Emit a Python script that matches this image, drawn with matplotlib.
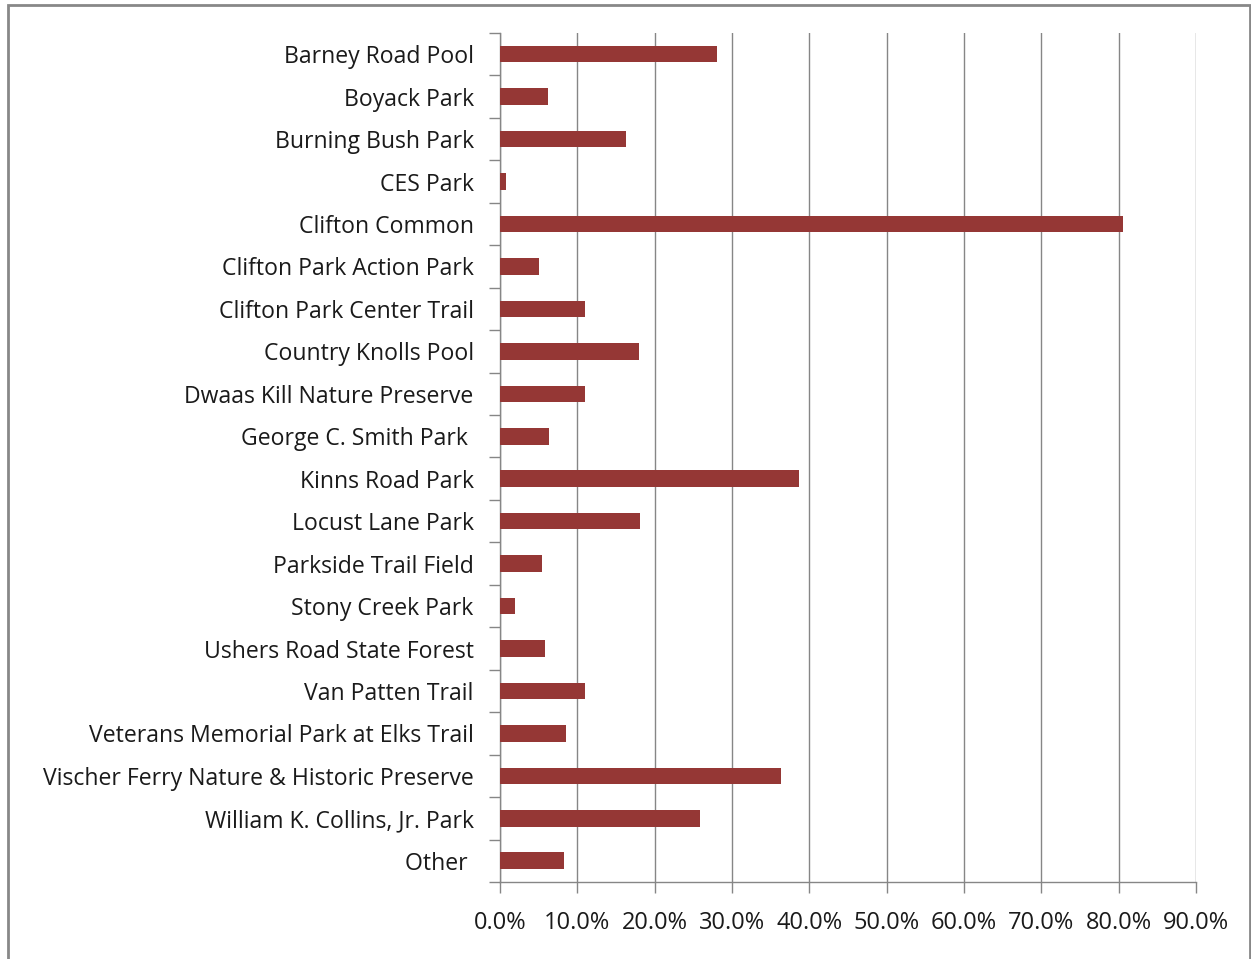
import matplotlib.pyplot as plt
from matplotlib.patches import Rectangle
from matplotlib.ticker import FixedLocator, FuncFormatter

parks = ['Barney Road Pool', 'Boyack Park', 'Burning Bush Park', 'CES Park',
         'Clifton Common', 'Clifton Park Action Park', 'Clifton Park Center Trail',
         'Country Knolls Pool', 'Dwaas Kill Nature Preserve', 'George C. Smith Park ',
         'Kinns Road Park', 'Locust Lane Park', 'Parkside Trail Field',
         'Stony Creek Park', 'Ushers Road State Forest', 'Van Patten Trail',
         'Veterans Memorial Park at Elks Trail', 'Vischer Ferry Nature & Historic Preserve',
         'William K. Collins, Jr. Park', 'Other ']
pct = [28.0, 6.2, 16.3, 0.8, 80.6, 5.1, 11.0, 18.0, 11.0, 6.3,
       38.6, 18.1, 5.4, 1.9, 5.8, 11.0, 8.5, 36.3, 25.8, 8.3]
xticks = [0, 10, 20, 30, 40, 50, 60, 70, 80, 90]

plt.rcParams['font.family'] = ['Open Sans', 'DejaVu Sans']

fig = plt.figure(figsize=(12.51, 9.59), dpi=100)
ax = fig.add_axes([0.3997, 0.0803, 0.5563, 0.8853])

ypos = list(range(len(parks)))
ax.barh(ypos, pct, height=0.39, color='#953735', zorder=3)

ax.set_xlim(0, 90)
ax.set_ylim(len(parks) - 0.5, -0.5)
ax.set_yticks(ypos)
ax.set_yticklabels(parks, fontsize=16.6, color='#1a1a1a')
ax.yaxis.set_minor_locator(FixedLocator([i - 0.5 for i in range(len(parks) + 1)]))
ax.tick_params(axis='y', which='major', length=0, pad=19)
ax.tick_params(axis='y', which='minor', length=8, color='#868686', width=1)

ax.set_xticks(xticks)
ax.xaxis.set_major_formatter(FuncFormatter(lambda v, p: f'{v:.1f}%'))
ax.tick_params(axis='x', length=8, color='#868686', width=1, pad=13,
               labelsize=17, labelcolor='#1a1a1a')

ax.grid(axis='x', color='#868686', linewidth=1, zorder=0)
for side in ['top', 'right']:
    ax.spines[side].set_visible(False)
for side in ['left', 'bottom']:
    ax.spines[side].set_color('#868686')
    ax.spines[side].set_linewidth(1)

# outer chart frame
fig.patches.append(Rectangle((0.0064, -0.01), 0.9926, 1.005, transform=fig.transFigure,
                             fill=False, edgecolor='#888888', linewidth=2))

fig.savefig('out.png', dpi=100)
